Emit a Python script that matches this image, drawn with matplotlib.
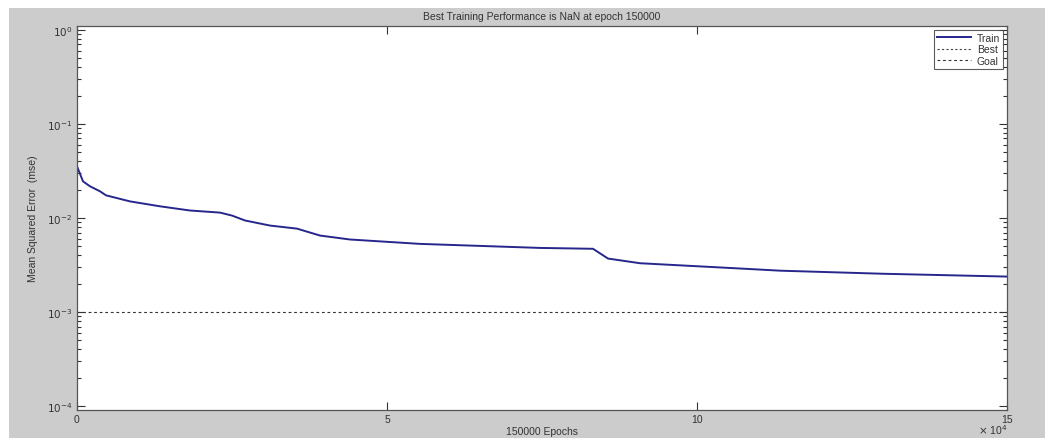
import matplotlib
matplotlib.use("Agg")
import matplotlib.pyplot as plt
from matplotlib.patches import Rectangle
from matplotlib.ticker import LogLocator, NullFormatter, FixedLocator

plt.rcParams['font.family'] = ['Liberation Sans', 'DejaVu Sans']

# Data
epochs = [0, 1, 968, 2097, 3710, 4677, 8548, 13387, 18226, 23065, 25000, 27097,
          31129, 35484, 39194, 44032, 55323, 74677, 83226, 85645, 90806,
          106935, 113387, 130000, 150000]
train_mse = [1.0, 0.0354, 0.0245, 0.0217, 0.0192, 0.0174, 0.0150, 0.0133, 0.0120,
             0.0114, 0.0106, 0.0094, 0.0083, 0.0077, 0.0065, 0.0059, 0.0053,
             0.0048, 0.0047, 0.0037, 0.0033, 0.0029, 0.00275, 0.00255, 0.00238]
goal = 1e-3
x_ticks = [0, 50000, 100000, 150000]
x_tick_labels = ['0', '5', '10', '15']
y_ticks = [1e-4, 1e-3, 1e-2, 1e-1, 1e0]
y_tick_labels = ['$10^{-4}$', '$10^{-3}$', '$10^{-2}$', '$10^{-1}$', '$10^{0}$']

W, H = 1045, 439
fig = plt.figure(figsize=(W / 100, H / 100), dpi=100)
fig.patch.set_facecolor('#cccccc')
# white margins from the cropped page
fig.patches.append(Rectangle((0, 1 - 9 / H), 1, 9 / H, transform=fig.transFigure,
                             facecolor='white', edgecolor='none', zorder=0))
fig.patches.append(Rectangle((0, 0), 9 / W, 1, transform=fig.transFigure,
                             facecolor='white', edgecolor='none', zorder=0))

ax = fig.add_axes([77 / W, 1 - 411 / H, (1007 - 77) / W, (411 - 27) / H])
ax.set_facecolor('white')

line_color = '#26268c'
ax.plot(epochs, train_mse, color=line_color, lw=1.4, label='Train')
ax.plot([], [], ls=(0, (2, 2)), color='#444444', lw=0.8, label='Best')
ax.axhline(goal, ls=(0, (2.5, 2.5)), color='#333333', lw=0.8, label='Goal')

ax.set_yscale('log')
ax.set_xlim(0, 150000)
ax.set_ylim(9.07e-5, 1.10)

txt_col = '#333333'
ax.xaxis.set_major_locator(FixedLocator(x_ticks))
ax.set_xticklabels(x_tick_labels)
ax.yaxis.set_major_locator(FixedLocator(y_ticks))
ax.set_yticklabels(y_tick_labels)
ax.yaxis.set_minor_locator(LogLocator(base=10, subs=range(2, 10)))
ax.yaxis.set_minor_formatter(NullFormatter())

ax.tick_params(which='both', direction='in', top=True, right=True,
               labelsize=7.5, colors='#333333', labelcolor=txt_col)
ax.tick_params(which='major', length=6, width=0.8)
ax.tick_params(which='minor', length=3, width=0.8)
ax.tick_params(axis='x', pad=3)
for s in ax.spines.values():
    s.set_color('#555555')
    s.set_linewidth(0.9)

ax.set_title('Best Training Performance is NaN at epoch 150000', fontsize=7.5,
             color=txt_col, pad=5)
ax.set_xlabel('150000 Epochs', fontsize=7.5, color=txt_col, labelpad=1)
ax.set_ylabel('Mean Squared Error  (mse)', fontsize=7.5, color=txt_col, labelpad=6)
ax.text(1.0, -24 / 384, r'$\times$ 10$^4$', transform=ax.transAxes, fontsize=7.5,
        color=txt_col, ha='right', va='baseline')

leg = ax.legend(loc='upper right', fontsize=7.5, frameon=True, fancybox=False,
                borderpad=0.3, labelspacing=0.15, handlelength=3.2,
                handletextpad=0.6, borderaxespad=0.35, markerfirst=True)
leg.get_frame().set_edgecolor('#333333')
leg.get_frame().set_linewidth(0.8)
for t in leg.get_texts():
    t.set_color(txt_col)
    t.set_ha('right')
leg._legend_box.align = 'right'

fig.savefig('out.png', dpi=100, facecolor=fig.get_facecolor())
